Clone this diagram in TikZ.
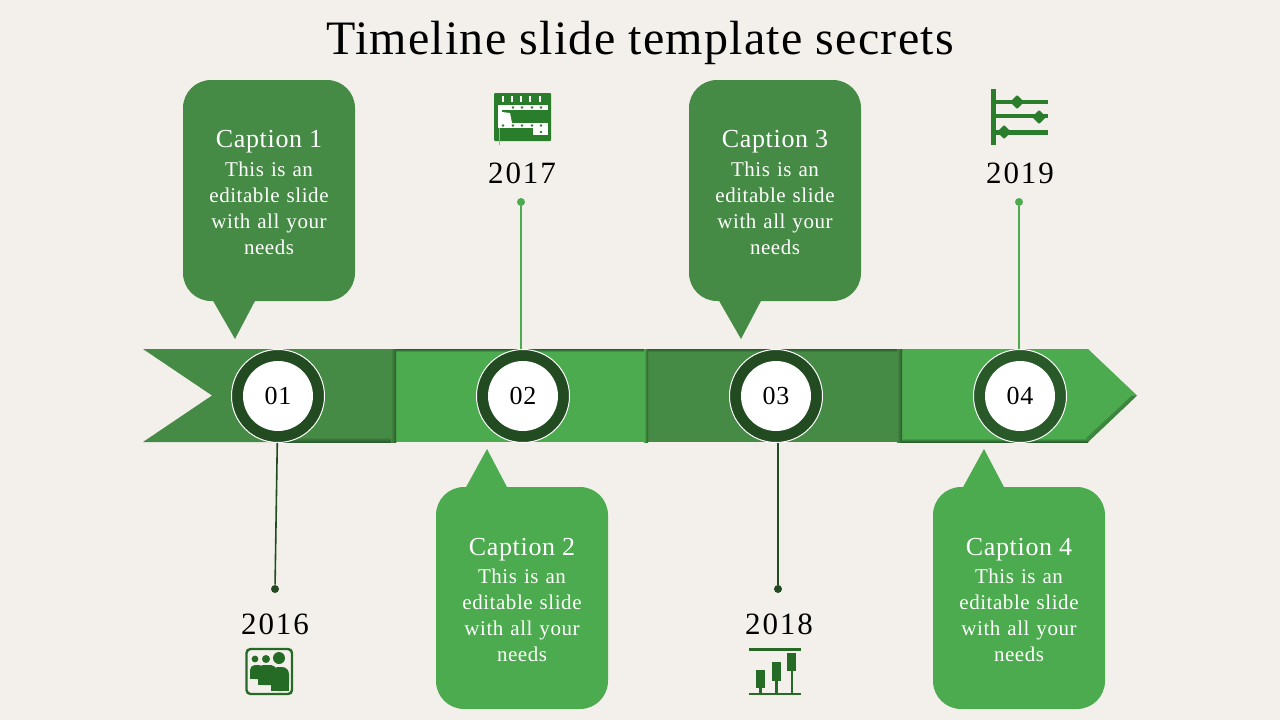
\documentclass[tikz,border=0pt]{standalone}
\usepackage{fontspec}
\setmainfont[LetterSpace=2.6]{Liberation Serif}
\newfontfamily\yearfont[LetterSpace=6]{Liberation Serif}
\usetikzlibrary{calc,shapes.geometric}
\definecolor{paper}{HTML}{F3F0EB}
\definecolor{darkband}{HTML}{468B45}
\definecolor{lightband}{HTML}{4CAB4E}
\definecolor{ringgreen}{HTML}{234B22}
\definecolor{icongreen}{HTML}{2A7D2B}
\definecolor{picgreen}{HTML}{256B26}
\definecolor{seamgreen}{HTML}{2B5A2E}
\tikzset{
  bubble/.style={rounded corners=28pt,minimum width=172pt,text width=150pt,align=center,text=white,inner sep=0pt,font=\fontsize{21}{26}\selectfont},
  ringdisc/.style={circle,draw=white,line width=1pt,fill=ringgreen,minimum size=93pt,inner sep=0pt},
  hubdisc/.style={circle,fill=white,minimum size=70pt,inner sep=0pt,font=\fontsize{26}{30}\selectfont},
  yeartext/.style={font=\yearfont\fontsize{31}{36}\selectfont},
  pindot/.style={circle,minimum size=8pt,inner sep=0pt},
}
\newcommand{\captiontext}[1]{{\fontsize{26}{30}\selectfont\rule{0pt}{21pt}Caption #1}\\[2.5pt]This is an\\editable slide\\with all your\\needs}
\begin{document}
\begin{tikzpicture}[x=1pt,y=-1pt,semithick]
  \useasboundingbox (0,0) rectangle (1280,720);
  \fill[paper] (0,0) rectangle (1280,720);

  \node[font=\fontsize{48}{52}\selectfont] (title) at (640,43) {Timeline slide template secrets};

  \fill[darkband] (143,349) -- (396,349) -- (396,442) -- (143,442) -- (212,395.5) -- cycle;
  \fill[lightband] (396,349) rectangle (648,442);
  \fill[darkband] (648,349) rectangle (902,442);
  \fill[lightband] (902,349) -- (1088,349) -- (1137,395.5) -- (1088,442) -- (902,442) -- cycle;

  \shade[top color=darkband,bottom color=seamgreen] (278,437) rectangle (396,442);
  \shade[left color=darkband,right color=seamgreen] (391,349) rectangle (396,442);
  \shade[top color=seamgreen,bottom color=lightband] (396,349) rectangle (648,352);
  \shade[left color=lightband,right color=seamgreen] (644,349) rectangle (648,442);
  \shade[top color=seamgreen,bottom color=darkband] (648,349) rectangle (902,352);
  \shade[left color=darkband,right color=seamgreen] (897,349) rectangle (902,442);
  \shade[top color=lightband,bottom color=seamgreen] (902,438) rectangle (1088,442);
  \shade[top color=lightband,bottom color=seamgreen,shading angle=45] (1088,442) -- (1137,395.5) -- (1132,395.5) -- (1086,438) -- cycle;

  \node[fill=darkband,bubble,minimum height=221pt] (cap1) at (269,190.5) {\captiontext{1}};
  \node[fill=darkband,bubble,minimum height=221pt] (cap3) at (775,190.5) {\captiontext{3}};
  \node[fill=lightband,bubble,minimum height=222pt] (cap2) at (522,598) {\captiontext{2}};
  \node[fill=lightband,bubble,minimum height=222pt] (cap4) at (1019,598) {\captiontext{4}};
  \fill[darkband] (212,299) -- (235,339) -- (256,299) -- cycle;
  \fill[darkband] (718,299) -- (741,339) -- (762,299) -- cycle;
  \fill[lightband] (465,489) -- (487,449) -- (508,489) -- cycle;
  \fill[lightband] (962,489) -- (984,449) -- (1005,489) -- cycle;

  \node[ringdisc] (ring1) at (278,396) {};
  \node[ringdisc] (ring2) at (523,396) {};
  \node[ringdisc] (ring3) at (776,396) {};
  \node[ringdisc,fill=ringgreen!85!lightband] (ring4) at (1020,396) {};
  \node[hubdisc] (hub1) at (278,396) {01};
  \node[hubdisc] (hub2) at (523,396) {02};
  \node[hubdisc] (hub3) at (776,396) {03};
  \node[hubdisc] (hub4) at (1020,396) {04};

  \node[pindot,fill=ringgreen] (pin1) at (275,589) {};
  \node[pindot,fill=lightband] (pin2) at (521,202) {};
  \node[pindot,fill=ringgreen] (pin3) at (778,589) {};
  \node[pindot,fill=lightband] (pin4) at (1019,202) {};
  \draw[ringgreen,line width=1.6pt] (ring1) -- (pin1);
  \draw[lightband,line width=1.6pt] (pin2) -- (pin2 |- ring2.north);
  \draw[ringgreen,line width=1.6pt] (pin3 |- ring3.south) -- (pin3);
  \draw[lightband,line width=1.6pt] (pin4) -- (pin4 |- ring4.north);

  \node[yeartext] (year1) at (275,624) {2016};
  \node[yeartext] (year2) at (522,173) {2017};
  \node[yeartext] (year3) at (779,624) {2018};
  \node[yeartext] (year4) at (1020,173) {2019};

  \fill[icongreen,rounded corners=1pt] (494,93) rectangle (551,141);
  \fill[white] (498,105) rectangle (548,110);
  \fill[white] (498,123) rectangle (548,128);
  \fill[white] (498,110) rectangle (502,123);
  \fill[white] (502,112) -- (510,113) -- (512,123) -- (502,123) -- cycle;
  \fill[white] (533,128) rectangle (548,135);
  \foreach \xa in {503,512,521,530,540} \fill[white] (\xa-1,96) rectangle (\xa+1,102);
  \foreach \xa in {513,522,532,541} \fill[icongreen] (\xa,107.5) circle (1.3pt);
  \foreach \xa in {503,513,522,532,541} \fill[icongreen] (\xa,125.5) circle (1.3pt);
  \fill[icongreen] (541,132) circle (1.3pt);
  \draw[gray!70,line width=0.6pt] (499.5,128) -- (499.5,145);

  \fill[icongreen] (991,89) rectangle (996,145);
  \fill[icongreen] (996,99.5) rectangle (1048,104);
  \fill[icongreen] (996,113.5) rectangle (1048,118);
  \fill[icongreen] (996,130) rectangle (1048,134.5);
  \fill[icongreen,rounded corners=1pt] (1017,95) -- (1024,102) -- (1017,109) -- (1010,102) -- cycle;
  \fill[icongreen,rounded corners=1pt] (1039,110) -- (1046,117) -- (1039,124) -- (1032,117) -- cycle;
  \fill[icongreen,rounded corners=1pt] (1004,125) -- (1011,132) -- (1004,139) -- (997,132) -- cycle;

  \draw[picgreen,line width=2.4pt,rounded corners=4pt] (246.5,649) rectangle (292,694);
  \fill[picgreen] (255,659) circle (3.4pt);
  \fill[picgreen] (266,659) circle (4pt);
  \fill[picgreen] (279,658) circle (6pt);
  \fill[picgreen,rounded corners=5pt] (250,679) -- (250,665) -- (264,665) -- (264,679) -- cycle;
  \fill[picgreen,rounded corners=5pt] (258,685) -- (258,665) -- (276,665) -- (276,685) -- cycle;
  \fill[picgreen,rounded corners=7pt] (271,691) -- (271,667) -- (289,667) -- (289,691) -- cycle;
  \fill[picgreen] (250,672) rectangle (258,679);
  \fill[picgreen] (258,675) rectangle (271,685);
  \fill[picgreen] (271,680) rectangle (289,691);

  \fill[picgreen] (749,648) rectangle (801,650.5);
  \fill[picgreen] (749,692.5) rectangle (801,695);
  \fill[picgreen] (756,670) rectangle (765,688);
  \fill[picgreen] (772,662) rectangle (781,681);
  \fill[picgreen] (787,653) rectangle (796,671);
  \fill[picgreen] (759,688) rectangle (761.5,692.5);
  \fill[picgreen] (775,681) rectangle (777.5,692.5);
  \fill[picgreen] (790.5,671) rectangle (793,692.5);
\end{tikzpicture}
\end{document}
